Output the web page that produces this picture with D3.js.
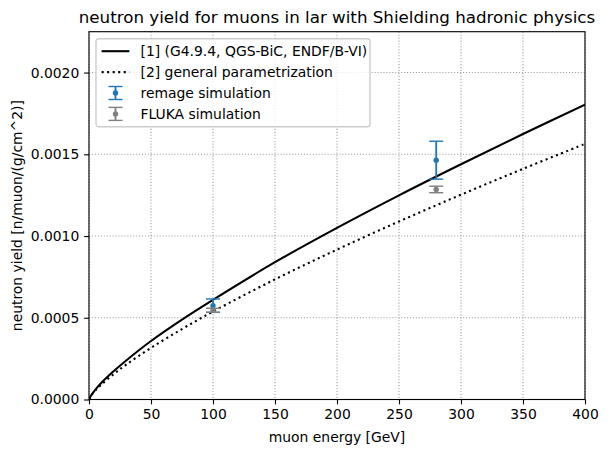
<html>
<head>
<script src="https://d3js.org/d3.v7.min.js"></script>
<style>
  html, body { margin: 0; padding: 0; background: #fff; overflow: hidden; }
  svg { display: block; }
  text { font-family: "DejaVu Sans", sans-serif; fill: #000; }
</style>
</head>
<body>
<script>
var energies  = [0, 2, 5, 10, 20, 30, 50, 75, 100, 150, 200, 250, 300, 350, 400];
var yieldRef1 = [0, 0.000029, 0.000059, 0.000102, 0.000174, 0.000239, 0.000358, 0.000489, 0.000610, 0.000840, 0.001050, 0.001249, 0.001439, 0.001624, 0.001804];
var yieldRef2 = [0, 0.000026, 0.000054, 0.000091, 0.000156, 0.000213, 0.000316, 0.000431, 0.000538, 0.000735, 0.000917, 0.001089, 0.001253, 0.001411, 0.001564];

var simEnergies = [100, 280];
var remageYield = [0.000574, 0.001464];
var remageErr   = [0.000041, 0.000116];
var flukaYield  = [0.000546, 0.001285];
var flukaErr    = [0.000012, 0.000020];

var xTicks = [0, 50, 100, 150, 200, 250, 300, 350, 400];
var yTicks = [0, 0.0005, 0.0010, 0.0015, 0.0020];

var legendLabels = ["[1] (G4.9.4, QGS-BiC, ENDF/B-VI)", "[2] general parametrization",
                    "remage simulation", "FLUKA simulation"];

var outerWidth = 609, outerHeight = 454;
var margin = { left: 89, top: 31.7, right: 24, bottom: 54.5 };
var innerWidth  = outerWidth  - margin.left - margin.right;
var innerHeight = outerHeight - margin.top - margin.bottom;

var blue = "#1f77b4", grey = "#808080";
var pt = 100 / 72;

var svg = d3.select("body").append("svg")
  .attr("width", outerWidth)
  .attr("height", outerHeight);
svg.append("rect").attr("width", outerWidth).attr("height", outerHeight).attr("fill", "#fff");

var g = svg.append("g")
  .attr("transform", "translate(" + margin.left + "," + margin.top + ")");

var xScale = d3.scaleLinear().domain([0, 400]).range([0, innerWidth]);
var yScale = d3.scaleLinear().domain([0, 0.00225]).range([innerHeight, 0]);

// grid
var gridG = g.append("g");
gridG.selectAll(".gx").data(xTicks).enter().append("line")
  .attr("x1", function(d) { return xScale(d); }).attr("x2", function(d) { return xScale(d); })
  .attr("y1", 0).attr("y2", innerHeight);
gridG.selectAll(".gy").data(yTicks).enter().append("line")
  .attr("y1", function(d) { return yScale(d); }).attr("y2", function(d) { return yScale(d); })
  .attr("x1", 0).attr("x2", innerWidth);
gridG.selectAll("line")
  .attr("stroke", "#a0a0a0").attr("stroke-width", 0.8 * pt)
  .attr("stroke-dasharray", (0.8 * pt) + "," + (1.32 * pt));

// curves
var curveData1 = energies.map(function(e, i) { return [e, yieldRef1[i]]; });
var curveData2 = energies.map(function(e, i) { return [e, yieldRef2[i]]; });
var line = d3.line()
  .x(function(d) { return xScale(d[0]); })
  .y(function(d) { return yScale(d[1]); })
  .curve(d3.curveCatmullRom.alpha(0.5));

var clip = g.append("clipPath").attr("id", "clip");
clip.append("rect").attr("width", innerWidth).attr("height", innerHeight);

g.append("path").datum(curveData1)
  .attr("d", line).attr("fill", "none").attr("stroke", "#000")
  .attr("stroke-width", 1.5 * pt).attr("clip-path", "url(#clip)");
g.append("path").datum(curveData2)
  .attr("d", line).attr("fill", "none").attr("stroke", "#000")
  .attr("stroke-width", 1.5 * pt)
  .attr("stroke-dasharray", (1.5 * pt) + "," + (2.475 * pt))
  .attr("clip-path", "url(#clip)");

// error bars
function errorGlyph(parent, x, yc, y0, y1, color) {
  var cap = 7;
  parent.append("line").attr("x1", x).attr("x2", x).attr("y1", y0).attr("y2", y1)
    .attr("stroke", color).attr("stroke-width", 1.8);
  parent.append("line").attr("x1", x - cap).attr("x2", x + cap).attr("y1", y0).attr("y2", y0)
    .attr("stroke", color).attr("stroke-width", 1.4);
  parent.append("line").attr("x1", x - cap).attr("x2", x + cap).attr("y1", y1).attr("y2", y1)
    .attr("stroke", color).attr("stroke-width", 1.4);
  parent.append("circle").attr("cx", x).attr("cy", yc).attr("r", 2.7).attr("fill", color);
}
function drawErrors(values, errs, color) {
  simEnergies.forEach(function(e, i) {
    errorGlyph(g, xScale(e), yScale(values[i]),
      yScale(values[i] - errs[i]), yScale(values[i] + errs[i]), color);
  });
}
drawErrors(remageYield, remageErr, blue);
drawErrors(flukaYield, flukaErr, grey);

// axes
var xAxis = d3.axisBottom(xScale).tickValues(xTicks).tickSize(4.86).tickPadding(4.86).tickFormat(d3.format("d"));
var yAxis = d3.axisLeft(yScale).tickValues(yTicks).tickSize(4.86).tickPadding(4.86).tickFormat(d3.format(".4f"));

var xAxisG = g.append("g").attr("transform", "translate(0," + innerHeight + ")").call(xAxis);
var yAxisG = g.append("g").call(yAxis);
[xAxisG, yAxisG].forEach(function(a) {
  a.select(".domain").remove();
  a.selectAll("line").attr("stroke", "#000").attr("stroke-width", 0.8 * pt);
  a.selectAll("text").attr("font-size", 13.9).attr("font-family", "DejaVu Sans").attr("fill", "#000");
});

g.append("rect").attr("width", innerWidth).attr("height", innerHeight)
  .attr("fill", "none").attr("stroke", "#000").attr("stroke-width", 0.8 * pt);

// legend
var lg = g.append("g").attr("transform", "translate(7,7)");
lg.append("rect").attr("width", 274).attr("height", 88).attr("rx", 2.8)
  .attr("fill", "#fff").attr("fill-opacity", 0.8)
  .attr("stroke", "#cccccc").attr("stroke-width", 1 * pt);
var rowY = [12.5, 33.4, 54.3, 75.2];
legendLabels.forEach(function(label, i) {
  lg.append("text").attr("x", 44.5).attr("y", rowY[i]).attr("dy", "0.36em")
    .attr("font-size", 13.9).text(label);
});
lg.append("line").attr("x1", 5.6).attr("x2", 33.4).attr("y1", rowY[0]).attr("y2", rowY[0])
  .attr("stroke", "#000").attr("stroke-width", 1.5 * pt);
lg.append("line").attr("x1", 5.6).attr("x2", 33.4).attr("y1", rowY[1]).attr("y2", rowY[1])
  .attr("stroke", "#000").attr("stroke-width", 1.5 * pt)
  .attr("stroke-dasharray", (1.5 * pt) + "," + (2.475 * pt));
errorGlyph(lg, 19.5, rowY[2], rowY[2] - 6.5, rowY[2] + 6.5, blue);
errorGlyph(lg, 19.5, rowY[3], rowY[3] - 6.5, rowY[3] + 6.5, grey);

// labels
svg.append("text").attr("x", margin.left + innerWidth / 2).attr("y", 23.4)
  .attr("text-anchor", "middle").attr("font-size", 16.7)
  .text("neutron yield for muons in lar with Shielding hadronic physics");
svg.append("text").attr("x", margin.left + innerWidth / 2).attr("y", 442)
  .attr("text-anchor", "middle").attr("font-size", 13.9)
  .text("muon energy [GeV]");
svg.append("text")
  .attr("transform", "translate(22," + (margin.top + innerHeight / 2) + ") rotate(-90)")
  .attr("text-anchor", "middle").attr("font-size", 13.9)
  .text("neutron yield [n/muon/(g/cm^2)]");
</script>
</body>
</html>
